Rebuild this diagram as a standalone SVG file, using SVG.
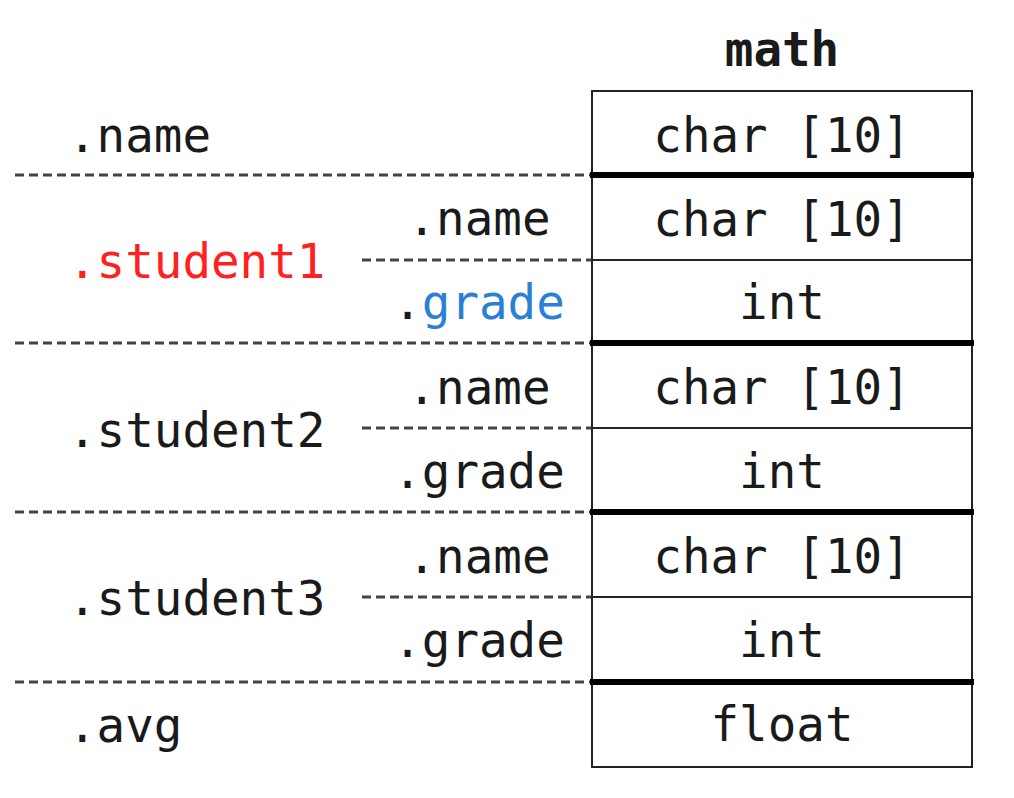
<svg xmlns="http://www.w3.org/2000/svg" width="1014" height="798" viewBox="0 0 1014 798">
<style>
text{font-family:"DejaVu Sans Mono","Liberation Mono",monospace;font-size:47.5px;fill:#1a1a1a}
.c{text-anchor:middle}
.t{font-weight:bold}
.thin{stroke:#222;stroke-width:2;fill:none}
.thick{stroke:#000;stroke-width:6}
.dash{stroke:#444;stroke-width:3;stroke-dasharray:9 5}
</style>
<rect width="1014" height="798" fill="#fff"/>
<g id="connectors">
<line class="dash" x1="15" y1="175" x2="592" y2="175"/>
<line class="dash" x1="15" y1="343" x2="592" y2="343"/>
<line class="dash" x1="15" y1="512" x2="592" y2="512"/>
<line class="dash" x1="15" y1="682" x2="592" y2="682"/>
<line class="dash" x1="362" y1="260" x2="592" y2="260"/>
<line class="dash" x1="362" y1="428" x2="592" y2="428"/>
<line class="dash" x1="362" y1="597" x2="592" y2="597"/>
</g>
<g id="math">
<text class="c t" x="782" y="66">math</text>
<rect class="thin" x="592" y="91" width="380" height="676"/>
<line class="thin" x1="592" y1="260" x2="972" y2="260"/>
<line class="thin" x1="592" y1="428" x2="972" y2="428"/>
<line class="thin" x1="592" y1="597" x2="972" y2="597"/>
<line class="thick" x1="590" y1="175" x2="974" y2="175"/>
<line class="thick" x1="590" y1="343" x2="974" y2="343"/>
<line class="thick" x1="590" y1="512" x2="974" y2="512"/>
<line class="thick" x1="590" y1="682" x2="974" y2="682"/>
<text class="c" x="782" y="152">char [10]</text>
<text class="c" x="782" y="236">char [10]</text>
<text class="c" x="782" y="319">int</text>
<text class="c" x="782" y="404">char [10]</text>
<text class="c" x="782" y="488">int</text>
<text class="c" x="782" y="573">char [10]</text>
<text class="c" x="782" y="657">int</text>
<text class="c" x="782" y="741">float</text>
</g>
<g id="name"><text x="68" y="152">.name</text></g>
<g id="student1">
<text x="68" y="278" style="fill:#ff2020">.student1</text>
<text class="c" x="479" y="235">.name</text>
<text class="c" x="479" y="319">.<tspan style="fill:#2b7fd6">grade</tspan></text>
</g>
<g id="student2">
<text x="68" y="447">.student2</text>
<text class="c" x="479" y="404">.name</text>
<text class="c" x="479" y="488">.grade</text>
</g>
<g id="student3">
<text x="68" y="615">.student3</text>
<text class="c" x="479" y="573">.name</text>
<text class="c" x="479" y="657">.grade</text>
</g>
<g id="avg"><text x="68" y="742">.avg</text></g>
</svg>
